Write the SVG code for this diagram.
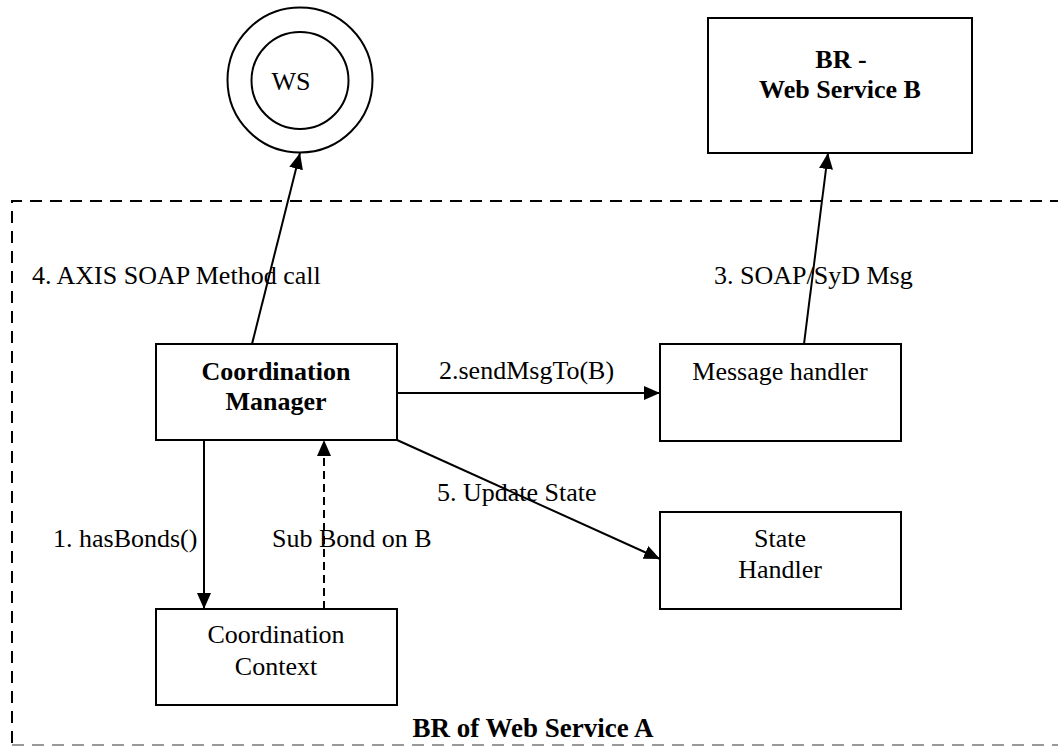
<svg xmlns="http://www.w3.org/2000/svg" width="1058" height="752" viewBox="0 0 1058 752">
<style>
text{font-family:"Liberation Serif","Times New Roman",serif;font-size:26px;fill:#000}
.b{font-weight:bold}
.box{fill:#fff;stroke:#000;stroke-width:2}
.ln{fill:none;stroke:#000;stroke-width:2}
.dash{stroke-dasharray:8 5}
</style>
<defs>
<marker id="ah" markerUnits="userSpaceOnUse" markerWidth="16" markerHeight="14" refX="16" refY="7" orient="auto" viewBox="0 0 16 14">
<path d="M0,0 L16,7 L0,14 z" fill="#000"/>
</marker>
</defs>
<rect width="1058" height="752" fill="#fff"/>
<g id="container">
<path d="M1062 201 H12 V745" fill="none" stroke="#000" stroke-width="2" stroke-dasharray="12 8"/>
<path d="M12 745 H1062" fill="none" stroke="#999" stroke-width="2" stroke-dasharray="12 8"/>
<text class="b" x="533" y="737" text-anchor="middle" style="font-size:27px">BR of Web Service A</text>
</g>
<g id="ws">
<circle cx="300" cy="80" r="72.5" class="box"/>
<circle cx="300" cy="80.5" r="48.5" class="box"/>
<text x="291" y="90" text-anchor="middle">WS</text>
</g>
<g id="br-b">
<rect x="708" y="18" width="264" height="135" class="box"/>
<text class="b" x="841" y="68" text-anchor="middle">BR -</text>
<text class="b" x="840" y="98" text-anchor="middle">Web Service B</text>
</g>
<g id="coord-manager">
<rect x="156" y="344" width="241" height="96" class="box"/>
<text class="b" x="276" y="380" text-anchor="middle">Coordination</text>
<text class="b" x="276" y="410" text-anchor="middle">Manager</text>
</g>
<g id="message-handler">
<rect x="660" y="344" width="241" height="97" class="box"/>
<text x="780" y="380" text-anchor="middle">Message handler</text>
</g>
<g id="state-handler">
<rect x="660" y="512" width="241" height="97" class="box"/>
<text x="780" y="547" text-anchor="middle">State</text>
<text x="780" y="578" text-anchor="middle">Handler</text>
</g>
<g id="coord-context">
<rect x="156" y="609" width="241" height="96" class="box"/>
<text x="276" y="643" text-anchor="middle">Coordination</text>
<text x="276" y="675" text-anchor="middle">Context</text>
</g>
<g id="connectors">
<line x1="252" y1="344" x2="300" y2="153" class="ln" marker-end="url(#ah)"/>
<line x1="804" y1="344" x2="828" y2="153" class="ln" marker-end="url(#ah)"/>
<line x1="397" y1="393" x2="660" y2="393" class="ln" marker-end="url(#ah)"/>
<line x1="397" y1="440" x2="660" y2="559" class="ln" marker-end="url(#ah)"/>
<line x1="204" y1="440" x2="204" y2="609" class="ln" marker-end="url(#ah)"/>
<line x1="324" y1="609" x2="324" y2="440" class="ln dash" marker-end="url(#ah)"/>
<text x="32" y="284">4. AXIS SOAP Method call</text>
<text x="714" y="284">3. SOAP/SyD Msg</text>
<text x="439" y="379">2.sendMsgTo(B)</text>
<text x="437" y="501">5. Update State</text>
<text x="53" y="547">1. hasBonds()</text>
<text x="272" y="547">Sub Bond on B</text>
</g>
</svg>
